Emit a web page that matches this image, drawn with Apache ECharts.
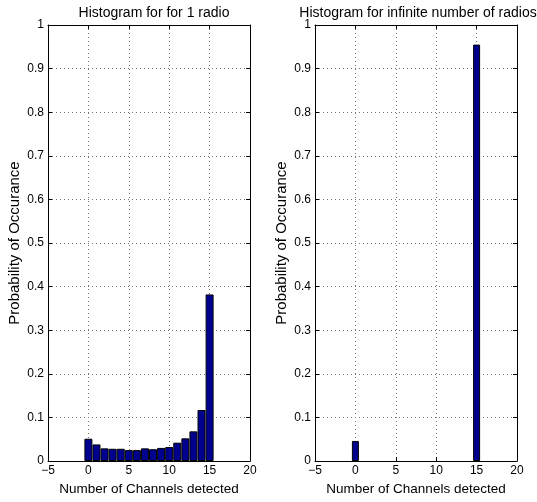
<!DOCTYPE html>
<html><head><meta charset="utf-8">
<script src="https://cdn.jsdelivr.net/npm/echarts@6/dist/echarts.min.js"></script>
<style>html,body{margin:0;padding:0;background:#fff}#c{width:537px;height:502px}</style>
</head><body><div id="c"></div>
<script>
const channels1 = [0,1,2,3,4,5,6,7,8,9,10,11,12,13,14,15];
const prob1 = [0.051,0.038,0.029,0.028,0.028,0.025,0.025,0.029,0.027,0.030,0.032,0.042,0.052,0.068,0.117,0.382];
const channels2 = [0,15];
const prob2 = [0.046,0.955];
const xTicks = [-5,0,5,10,15,20];
const yTicks = [0,0.1,0.2,0.3,0.4,0.5,0.6,0.7,0.8,0.9,1];
const titles = ['Histogram for for 1 radio','Histogram for infinite number of radios'];
const xName = 'Number of Channels detected';
const yName = 'Probability of Occurance';

const font = 'Liberation Sans, Arial, Helvetica, sans-serif';
const grids = [{left:48,top:25,width:202,height:436},{left:315,top:25,width:202,height:436}];
const titleCenters = [149,413];
const chart = echarts.init(document.getElementById('c'));
const xAxes=[], yAxes=[], series=[];
grids.forEach((g,i)=>{
  const base = {min:xTicks[0],max:xTicks[xTicks.length-1],interval:5,gridIndex:i,type:'value'};
  xAxes.push(Object.assign({},base,{position:'bottom',
    name:xName,nameLocation:'middle',nameGap:18,nameTextStyle:{fontFamily:font,fontSize:13.5,color:'#000'},
    axisLine:{show:true,onZero:false,lineStyle:{color:'#000',width:1}},
    axisTick:{show:true,inside:true,length:4,lineStyle:{color:'#000'}},
    axisLabel:{fontFamily:font,fontSize:12,color:'#000',margin:4,formatter:v=>String(v).replace('-','\u2212')},
    splitLine:{show:true,lineStyle:{color:'#777',type:[1,3],width:1}}}));
  xAxes.push(Object.assign({},base,{position:'top',
    axisLine:{show:true,onZero:false,lineStyle:{color:'#000',width:1}},
    axisTick:{show:true,inside:true,length:4,lineStyle:{color:'#000'}},
    axisLabel:{show:false},splitLine:{show:false}}));
  const ybase = {min:0,max:1,interval:0.1,gridIndex:i,type:'value'};
  yAxes.push(Object.assign({},ybase,{position:'left',
    name:yName,nameLocation:'middle',nameGap:26,nameTextStyle:{fontFamily:font,fontSize:15,color:'#000'},
    axisLine:{show:true,onZero:false,lineStyle:{color:'#000',width:1}},
    axisTick:{show:true,inside:true,length:4,lineStyle:{color:'#000'}},
    axisLabel:{fontFamily:font,fontSize:12,color:'#000',margin:4,formatter:v=>String(Math.round(v*10)/10)},
    splitLine:{show:true,lineStyle:{color:'#777',type:[1,3],width:1}}}));
  yAxes.push(Object.assign({},ybase,{position:'right',
    axisLine:{show:true,onZero:false,lineStyle:{color:'#000',width:1}},
    axisTick:{show:true,inside:true,length:4,lineStyle:{color:'#000'}},
    axisLabel:{show:false},splitLine:{show:false}}));
});
const datasets = [[channels1,prob1,8],[channels2,prob2,7]];
datasets.forEach((d,i)=>{
  series.push({type:'bar',xAxisIndex:i*2,yAxisIndex:i*2,barWidth:d[2],
    data:d[0].map((x,k)=>[x,d[1][k]]),
    itemStyle:{color:'#00008f',borderColor:'#000',borderWidth:1},silent:true,animation:false});
});
chart.setOption({
  animation:false,
  title:titles.map((t,i)=>({text:t,left:titleCenters[i],top:1,textAlign:'center',
    textStyle:{fontFamily:font,fontSize:14,fontWeight:'normal',color:'#000'}})),
  grid:grids,
  xAxis:xAxes,yAxis:yAxes,series:series
});
</script></body></html>
